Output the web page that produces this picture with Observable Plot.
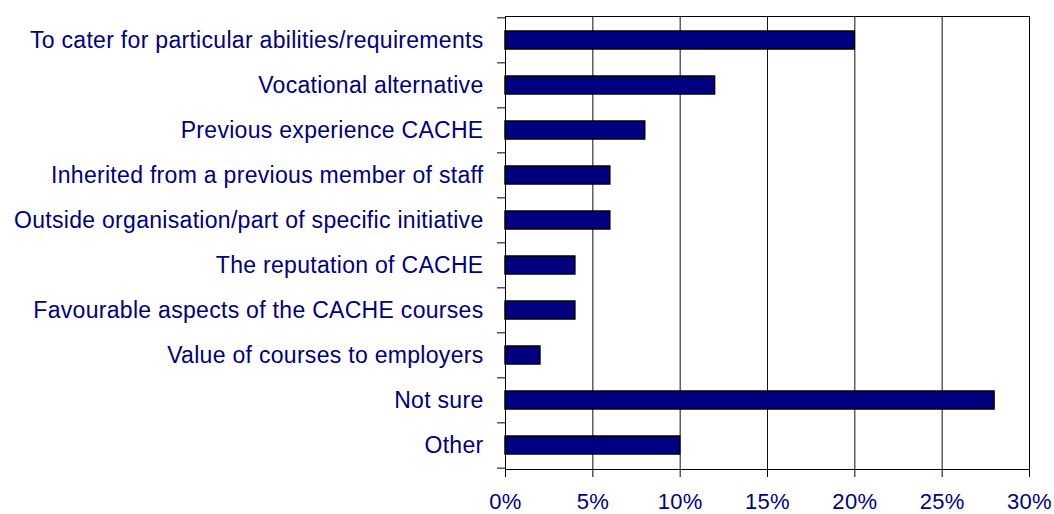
<!DOCTYPE html>
<html>
<head>
<meta charset="utf-8">
<script src="https://cdn.jsdelivr.net/npm/d3@7"></script>
<script src="https://cdn.jsdelivr.net/npm/@observablehq/plot@0.6"></script>
<style>
  html, body { margin: 0; padding: 0; background: #fff; }
</style>
</head>
<body>
<div id="chart"></div>
<script>
const categories = [
  "To cater for particular abilities/requirements",
  "Vocational alternative",
  "Previous experience CACHE",
  "Inherited from a previous member of staff",
  "Outside organisation/part of specific initiative",
  "The reputation of CACHE",
  "Favourable aspects of the CACHE courses",
  "Value of courses to employers",
  "Not sure",
  "Other"
];
const values = [0.20, 0.12, 0.08, 0.06, 0.06, 0.04, 0.04, 0.02, 0.28, 0.10];
const xTicks = [0, 0.05, 0.10, 0.15, 0.20, 0.25, 0.30];

const data = categories.map((c, i) => ({label: c, value: values[i]}));

const W = 1054, H = 514;
const mt = 16, mb = 45, ml = 505, mr = 25;
const step = (H - mt - mb) / categories.length;
const navy = "#000080";

const chart = Plot.plot({
  width: W,
  height: H,
  marginTop: mt,
  marginBottom: mb,
  marginLeft: ml,
  marginRight: mr,
  style: {fontFamily: "'Liberation Sans', Arial, sans-serif", fontSize: "23px", letterSpacing: "0.3px", background: "#fff"},
  x: {domain: [0, 0.30], label: null},
  y: {domain: categories, paddingInner: 0.59, paddingOuter: 0.295, label: null},
  marks: [
    Plot.gridX(xTicks.slice(1, -1), {stroke: "#111", strokeOpacity: 1}),
    Plot.barX(data, {x: "value", y: "label", fill: navy, stroke: "black", strokeWidth: 1.5}),
    Plot.frame({stroke: "black"}),
    Plot.axisX(xTicks, {tickSize: 8, tickPadding: 16, stroke: "black", fill: navy, fontSize: 22, label: null,
      tickFormat: d => Math.round(d * 100) + "%"}),
    Plot.axisY({tickSize: 0, tickPadding: 22, fill: navy, fontSize: 23, label: null}),
    Plot.axisY(categories, {tickSize: 8, tickFormat: () => "", stroke: "black", dy: -step / 2, label: null}),
    Plot.axisY([categories[categories.length - 1]], {tickSize: 8, tickFormat: () => "", stroke: "black", dy: step / 2, label: null})
  ]
});
document.getElementById("chart").appendChild(chart);
</script>
</body>
</html>
